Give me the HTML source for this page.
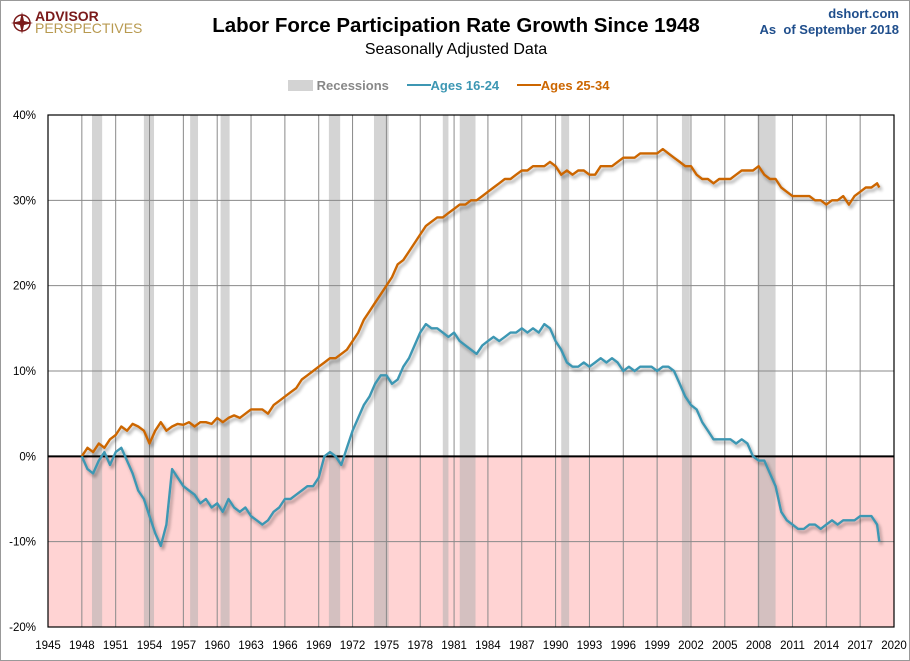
<!DOCTYPE html>
<html><head><meta charset="utf-8"><style>
body{margin:0;background:#fff;}
#wrap{position:relative;width:908px;height:659px;border:1px solid #999;overflow:hidden;font-family:"Liberation Sans Narrow","Liberation Sans",sans-serif;}
.t{position:absolute;white-space:nowrap;}
</style></head><body>
<div id="wrap">
<div class="t" style="left:10px;top:9px;">
 <svg width="22" height="22" viewBox="0 0 22 22" style="position:absolute;left:0;top:2px"><circle cx="11" cy="11" r="8" fill="none" stroke="#7a1a1a" stroke-width="1.5"/><polygon points="11,0 13,9 22,11 13,13 11,22 9,13 0,11 9,9" fill="#7a1a1a"/></svg>
 <div class="t" style="left:24px;top:0;font:bold 14px 'Liberation Sans',sans-serif;color:#7a1a1a;line-height:13px">ADVISOR</div>
 <div class="t" style="left:24px;top:12px;font:14px 'Liberation Sans',sans-serif;color:#b89a50;line-height:13px">PERSPECTIVES</div>
</div>
<div class="t" style="left:0;width:910px;text-align:center;top:13px;font-weight:bold;font-size:20.5px;color:#000">Labor Force Participation Rate Growth Since 1948</div>
<div class="t" style="left:0;width:910px;text-align:center;top:40px;font-size:16px;color:#000">Seasonally Adjusted Data</div>
<div class="t" style="right:10px;top:5px;text-align:right;font-weight:bold;font-size:13px;color:#1f4e8c;line-height:16px">dshort.com<br>As&nbsp; of September 2018</div>
<div class="t" style="left:287px;top:77px;font-weight:bold;font-size:13px;">
 <span><span style="display:inline-block;width:25px;height:11px;background:#d3d3d3;vertical-align:-1px"></span> <span style="color:#888">Recessions</span></span>
 <span style="margin-left:14px"><span style="display:inline-block;width:24px;height:2px;background:#3d97b3;vertical-align:4px"></span><span style="color:#3d97b3">Ages 16-24</span></span>
 <span style="margin-left:14px"><span style="display:inline-block;width:24px;height:2px;background:#cc6600;vertical-align:4px"></span><span style="color:#cc6600">Ages 25-34</span></span>
</div>
<svg id="chart" width="910" height="661" style="position:absolute;left:-1px;top:-1px">
<defs><filter id="sh" x="-5%" y="-5%" width="110%" height="110%"><feGaussianBlur in="SourceAlpha" stdDeviation="1.5"/><feOffset dx="2" dy="3"/><feComponentTransfer><feFuncA type="linear" slope="0.35"/></feComponentTransfer><feMerge><feMergeNode/><feMergeNode in="SourceGraphic"/></feMerge></filter></defs>
</svg>
</div>
<script>
const xTicks=[1945,1948,1951,1954,1957,1960,1963,1966,1969,1972,1975,1978,1981,1984,1987,1990,1993,1996,1999,2002,2005,2008,2011,2014,2017,2020];
const yTicks=[-20,-10,0,10,20,30,40];
const recessions=[[1948.9,1949.8],[1953.5,1954.4],[1957.6,1958.3],[1960.3,1961.1],[1969.9,1970.9],[1973.9,1975.2],[1980.0,1980.5],[1981.5,1982.9],[1990.5,1991.2],[2001.2,2001.9],[2007.9,2009.5]];
const years=[];for(let y=1948;y<=2018.5;y+=0.5)years.push(y);years.push(2018.7);
const ages2534=[0,1,0.5,1.5,1,2,2.5,3.5,3,3.8,3.5,3,1.5,3,4,3,3.5,3.8,3.7,4,3.5,4,4,3.8,4.5,4,4.5,4.8,4.5,5,5.5,5.5,5.5,5,6,6.5,7,7.5,8,9,9.5,10,10.5,11,11.5,11.5,12,12.5,13.5,14.5,16,17,18,19,20,21,22.5,23,24,25,26,27,27.5,28,28,28.5,29,29.5,29.5,30,30,30.5,31,31.5,32,32.5,32.5,33,33.5,33.5,34,34,34,34.5,34,33,33.5,33,33.5,33.5,33,33,34,34,34,34.5,35,35,35,35.5,35.5,35.5,35.5,36,35.5,35,34.5,34,34,33,32.5,32.5,32,32.5,32.5,32.5,33,33.5,33.5,33.5,34,33,32.5,32.5,31.5,31,30.5,30.5,30.5,30.5,30,30,29.5,30,30,30.5,29.5,30.5,31,31.5,31.5,32,31.5];
const ages1624=[0,-1.5,-2,-0.5,0.5,-1,0.5,1,-0.5,-2,-4,-5,-7,-9,-10.5,-8,-1.5,-2.5,-3.5,-4,-4.5,-5.5,-5,-6,-5.5,-6.5,-5,-6,-6.5,-6,-7,-7.5,-8,-7.5,-6.5,-6,-5,-5,-4.5,-4,-3.5,-3.5,-2.5,0,0.5,0,-1,1,3,4.5,6,7,8.5,9.5,9.5,8.5,9,10.5,11.5,13,14.5,15.5,15,15,14.5,14,14.5,13.5,13,12.5,12,13,13.5,14,13.5,14,14.5,14.5,15,14.5,15,14.5,15.5,15,13.5,12.5,11,10.5,10.5,11,10.5,11,11.5,11,11.5,11,10,10.5,10,10.5,10.5,10.5,10,10.5,10.5,10,8.5,7,6,5.5,4,3,2,2,2,2,1.5,2,1.5,0,-0.5,-0.5,-2,-3.5,-6.5,-7.5,-8,-8.5,-8.5,-8,-8,-8.5,-8,-7.5,-8,-7.5,-7.5,-7.5,-7,-7,-7,-8,-10];
const X0=48,X1=894,Y0=115,Y1=627;
const xs=v=>X0+(v-1945)/(2020-1945)*(X1-X0);
const ys=v=>Y1-(v+20)/60*(Y1-Y0);
const svg=document.getElementById('chart');const NS='http://www.w3.org/2000/svg';
function mk(tag,attrs){const e=document.createElementNS(NS,tag);for(const k in attrs)e.setAttribute(k,attrs[k]);svg.appendChild(e);return e;}
let e=mk('rect',{x:X0,y:ys(0),width:X1-X0,height:Y1-ys(0),fill:'#ffd3d3'});


recessions.forEach(r=>{const b=mk('rect',{x:xs(r[0]),y:Y0,width:xs(r[1])-xs(r[0]),height:Y1-Y0,fill:'#b0b0b0','fill-opacity':0.55});

});
xTicks.forEach(t=>{const l=mk('line',{x1:xs(t),x2:xs(t),y1:Y0,y2:Y1,stroke:'#8a8a8a','stroke-width':1});


const tx=mk('text',{x:xs(t),y:649,'text-anchor':'middle','font-size':11.5,'font-family':'Liberation Sans Narrow, Liberation Sans, sans-serif'});tx.textContent=t;

});
yTicks.forEach(t=>{if(t!==0){const l=mk('line',{x1:X0,x2:X1,y1:ys(t),y2:ys(t),stroke:'#8a8a8a','stroke-width':1});

}
const tx=mk('text',{x:36,y:ys(t)+4,'text-anchor':'end','font-size':11.5,'font-family':'Liberation Sans Narrow, Liberation Sans, sans-serif'});tx.textContent=t+'%';

});
e=mk('rect',{x:X0,y:Y0,width:X1-X0,height:Y1-Y0,fill:'none',stroke:'#000','stroke-width':1.2});


e=mk('line',{x1:X0,x2:X1,y1:ys(0),y2:ys(0),stroke:'#000','stroke-width':2});


function line(vals,color,name){const d=vals.map((v,i)=>(i?'L':'M')+xs(years[i]).toFixed(1)+','+ys(v).toFixed(1)).join('');
const p=mk('path',{d:d,fill:'none',stroke:color,'stroke-width':2.4,'stroke-linejoin':'round',filter:'url(#sh)'});

}
line(ages2534,'#cc6600','line-ages-25-34');
line(ages1624,'#3d97b3','line-ages-16-24');
</script>
</body></html>
